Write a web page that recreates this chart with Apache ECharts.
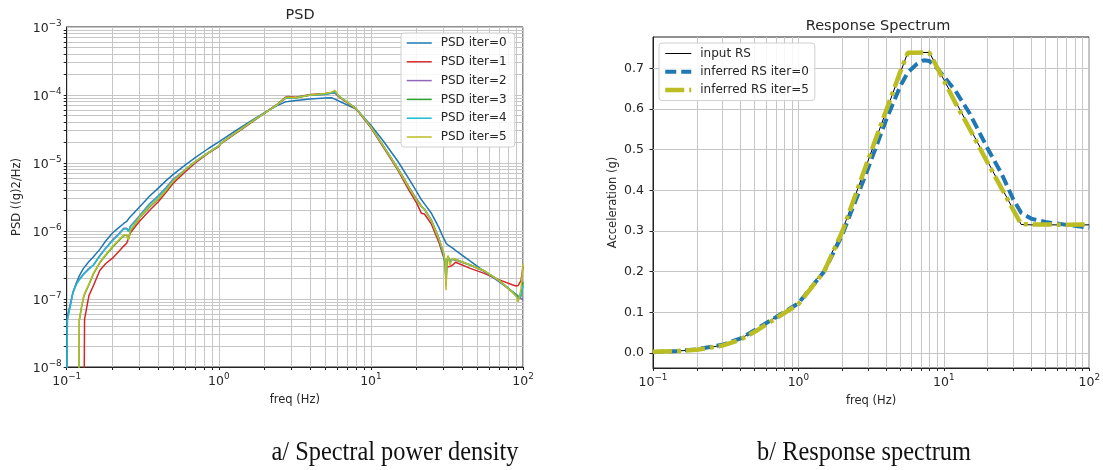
<!DOCTYPE html>
<html><head><meta charset="utf-8">
<script src="https://cdn.jsdelivr.net/npm/echarts@6/dist/echarts.min.js"></script>
<style>html,body{margin:0;padding:0;background:#fff}#c{width:1103px;height:470px}</style>
</head><body><div id="c"></div>
<script>
// ---------- PSD chart data ----------
const freqPSD = [0.1,0.101,0.105,0.11,0.115,0.119,0.121,0.125,0.129,0.131,
  0.14,0.15,0.165,0.18,0.2,0.22,0.237,0.248,0.255,0.262,
  0.3,0.35,0.4,0.41,0.45,0.5,0.6,0.7,0.85,1.0,
  1.03,1.3,1.6,2.0,2.4,2.75,2.85,3.2,4.0,5.0,
  5.5,5.8,6.2,8.0,10,12,15,18,20,21.5,
  22.5,25,28,30,30.8,31.2,31.6,32.2,33,34.5,
  36,45,55,70,85,90,93,97,100];
const psdIter0 = [1e-9,5.5e-8,7.9e-8,1.26e-7,1.66e-7,2.0e-7,2.19e-7,2.51e-7,2.82e-7,2.95e-7,
  3.55e-7,4.17e-7,5.37e-7,7.08e-7,9.33e-7,1.12e-6,1.29e-6,1.38e-6,1.51e-6,1.62e-6,
  2.24e-6,3.24e-6,4.27e-6,4.47e-6,5.5e-6,6.76e-6,9.33e-6,1.2e-5,1.62e-5,2.04e-5,
  2.14e-5,3.02e-5,4.07e-5,5.5e-5,6.92e-5,7.94e-5,8.0e-5,8.3e-5,8.7e-5,9.0e-5,
  9.1e-5,8.7e-5,8.1e-5,6.2e-5,3.6e-5,2.14e-5,1.07e-5,5.6e-6,3.8e-6,2.88e-6,
  2.51e-6,1.82e-6,1.12e-6,7.9e-7,7.1e-7,6.6e-7,6.3e-7,6.2e-7,5.9e-7,5.6e-7,
  5.2e-7,3.6e-7,2.6e-7,1.78e-7,1.29e-7,1.17e-7,1.1e-7,1.02e-7,9.8e-8];
const psdIter1 = [1e-10,1e-10,1e-10,1e-10,1e-10,1e-10,1e-10,1e-10,1e-10,5.0e-8,
  1.12e-7,1.58e-7,2.63e-7,3.3e-7,3.98e-7,5.0e-7,6.0e-7,6.6e-7,6.9e-7,9.3e-7,
  1.38e-6,2.0e-6,2.69e-6,2.88e-6,3.7e-6,5.0e-6,7.4e-6,1.0e-5,1.38e-5,1.74e-5,
  1.91e-5,2.75e-5,3.8e-5,5.4e-5,7.2e-5,9.3e-5,9.5e-5,9.3e-5,1.02e-4,1.05e-4,
  1.08e-4,1.07e-4,9.3e-5,6.2e-5,3.3e-5,1.74e-5,7.9e-6,3.8e-6,2.57e-6,1.82e-6,
  1.78e-6,1.26e-6,6.8e-7,4.17e-7,3.55e-7,3.16e-7,2.95e-7,2.82e-7,3.0e-7,3.16e-7,
  3.47e-7,2.82e-7,2.4e-7,1.91e-7,1.62e-7,1.55e-7,1.58e-7,1.86e-7,3.0e-7];
const psdIter2 = [1e-9,5.0e-8,7.6e-8,1.26e-7,1.62e-7,1.86e-7,1.95e-7,2.14e-7,2.34e-7,2.45e-7,
  2.82e-7,3.16e-7,4.37e-7,5.6e-7,7.4e-7,9.1e-7,1.1e-6,1.1e-6,1.0e-6,1.17e-6,
  1.66e-6,2.51e-6,3.3e-6,3.47e-6,4.37e-6,5.75e-6,7.9e-6,1.05e-5,1.41e-5,1.78e-5,
  1.95e-5,2.82e-5,3.9e-5,5.4e-5,7.1e-5,8.9e-5,9.1e-5,9.1e-5,1.0e-4,1.02e-4,
  1.06e-4,1.07e-4,9.5e-5,6.3e-5,3.4e-5,1.82e-5,8.5e-6,4.27e-6,2.95e-6,2.34e-6,
  2.09e-6,1.45e-6,7.9e-7,4.8e-7,3.3e-7,1.9e-7,3.55e-7,3.98e-7,3.7e-7,3.8e-7,
  3.7e-7,3.16e-7,2.57e-7,1.82e-7,1.26e-7,1.12e-7,1.07e-7,1.02e-7,1.0e-7];
const psdIter3 = [1e-10,1e-10,1e-10,1e-10,1e-10,1e-10,4.8e-8,7.4e-8,1.05e-7,1.17e-7,
  1.62e-7,2.34e-7,3.4e-7,4.37e-7,5.75e-7,7.2e-7,8.5e-7,8.7e-7,7.6e-7,1.0e-6,
  1.55e-6,2.24e-6,2.95e-6,3.16e-6,3.98e-6,5.4e-6,7.9e-6,1.05e-5,1.41e-5,1.78e-5,
  1.95e-5,2.82e-5,3.9e-5,5.4e-5,7.1e-5,9.1e-5,9.2e-5,9.1e-5,1.0e-4,1.03e-4,
  1.07e-4,1.12e-4,9.5e-5,6.3e-5,3.4e-5,1.82e-5,8.3e-6,4.17e-6,2.82e-6,2.29e-6,
  2.09e-6,1.41e-6,7.6e-7,4.57e-7,3.16e-7,1.58e-7,3.55e-7,4.17e-7,3.55e-7,3.9e-7,
  3.8e-7,3.16e-7,2.63e-7,1.86e-7,1.29e-7,1.15e-7,1.02e-7,1.12e-7,1.78e-7];
const psdIter4 = [1e-9,4.9e-8,7.4e-8,1.23e-7,1.58e-7,1.82e-7,1.91e-7,2.09e-7,2.29e-7,2.4e-7,
  2.75e-7,3.16e-7,4.27e-7,5.5e-7,7.2e-7,8.9e-7,1.07e-6,1.07e-6,9.8e-7,1.15e-6,
  1.62e-6,2.45e-6,3.24e-6,3.4e-6,4.27e-6,5.6e-6,7.9e-6,1.05e-5,1.41e-5,1.78e-5,
  1.95e-5,2.82e-5,3.9e-5,5.4e-5,7.1e-5,9.1e-5,9.2e-5,9.1e-5,1.0e-4,1.03e-4,
  1.07e-4,1.12e-4,9.5e-5,6.3e-5,3.4e-5,1.82e-5,8.3e-6,4.17e-6,2.82e-6,2.29e-6,
  2.09e-6,1.41e-6,7.6e-7,4.57e-7,3.3e-7,1.66e-7,3.6e-7,4.27e-7,3.55e-7,3.9e-7,
  3.8e-7,3.16e-7,2.63e-7,1.86e-7,1.29e-7,1.12e-7,1.0e-7,1.1e-7,1.58e-7];
const psdIter5 = [1e-10,1e-10,1e-10,1e-10,1e-10,1e-10,5.0e-8,7.6e-8,1.07e-7,1.2e-7,
  1.66e-7,2.4e-7,3.47e-7,4.47e-7,5.9e-7,7.4e-7,8.7e-7,8.7e-7,7.4e-7,1.02e-6,
  1.58e-6,2.29e-6,3.0e-6,3.16e-6,3.98e-6,5.4e-6,7.9e-6,1.05e-5,1.41e-5,1.78e-5,
  1.95e-5,2.82e-5,3.9e-5,5.4e-5,7.1e-5,9.1e-5,9.3e-5,9.1e-5,1.0e-4,1.05e-4,
  1.1e-4,1.17e-4,9.5e-5,6.3e-5,3.4e-5,1.82e-5,8.3e-6,4.17e-6,2.82e-6,2.29e-6,
  2.09e-6,1.41e-6,7.6e-7,5.0e-7,3.55e-7,1.35e-7,3.8e-7,4.37e-7,3.16e-7,3.98e-7,
  3.8e-7,3.16e-7,2.63e-7,1.86e-7,1.26e-7,1.1e-7,9.1e-8,1.41e-7,3.3e-7];
const psdNames = ['PSD iter=0','PSD iter=1','PSD iter=2','PSD iter=3','PSD iter=4','PSD iter=5'];

// ---------- Response spectrum data ----------
const freqRS = [0.1,0.15,0.2,0.3,0.4,0.5,0.7,1.0,1.5,2.0,3.0,4.0,5.0,5.65,6.5,7.3,7.95,9,10,12,15,20,25,30,34,40,50,70,100];
const rsInput = [0.002,0.005,0.008,0.019,0.035,0.055,0.088,0.123,0.205,0.300,0.471,0.593,0.687,0.739,0.739,0.739,0.739,0.703,0.672,0.619,0.555,0.471,0.406,0.353,0.316,0.315,0.315,0.315,0.315];
const rsIter0 = [0.002,0.005,0.009,0.020,0.036,0.056,0.088,0.122,0.200,0.290,0.452,0.572,0.655,0.690,0.710,0.720,0.718,0.700,0.680,0.645,0.590,0.503,0.440,0.378,0.345,0.330,0.322,0.315,0.308];
const rsIter5 = [0.003,0.005,0.008,0.018,0.033,0.052,0.085,0.120,0.200,0.298,0.473,0.595,0.690,0.738,0.738,0.739,0.738,0.702,0.670,0.615,0.552,0.468,0.404,0.352,0.317,0.316,0.316,0.315,0.316];
const rsNames = ['input RS','inferred RS iter=0','inferred RS iter=5'];

// ---------- axis ticks ----------
const decadesX = [0.1, 1, 10, 100];
const decadesY = [1e-8, 1e-7, 1e-6, 1e-5, 1e-4, 1e-3];
const accTicks = [0, 0.1, 0.2, 0.3, 0.4, 0.5, 0.6, 0.7];
const minorMult = [2,3,4,5,6,7,8,9];

const minorX = [];
decadesX.slice(0, -1).forEach(d => minorMult.forEach(m => minorX.push(+(d * m).toPrecision(3))));
const minorY = [];
decadesY.slice(0, -1).forEach(d => minorMult.forEach(m => minorY.push(+(d * m).toPrecision(3))));

const FONT = 'DejaVu Sans';
const TXT = '#262626';
const GRIDC = '#c6c6c6';
const psdColors = ['#1f77b4','#d62728','#9467bd','#2ca02c','#17becf','#bcbd22'];

function powLabel(v) {
  const e = Math.round(Math.log10(v));
  return '{b|10}{s|' + (e < 0 ? '\u2212' + (-e) : e) + '}';
}
const powRich = {
  b: {fontSize: 12.5, fontFamily: FONT, color: TXT, padding: [3, 0, 0, 0]},
  s: {fontSize: 8.8, fontFamily: FONT, color: TXT, verticalAlign: 'top'}
};

function gridSeries(xi, yi, xs, ys) {
  return {
    type: 'line', name: '_grid' + xi, xAxisIndex: xi, yAxisIndex: yi, data: [], silent: true, z: 1,
    markLine: {
      silent: true, z: 1, symbol: ['none', 'none'], label: {show: false}, animation: false,
      lineStyle: {color: GRIDC, width: 1, type: 'solid'},
      emphasis: {disabled: true},
      data: xs.map(v => ({xAxis: v})).concat(ys.map(v => ({yAxis: v})))
    }
  };
}

const psdData = [psdIter0, psdIter1, psdIter2, psdIter3, psdIter4, psdIter5];
const series = [];
series.push(gridSeries(0, 0, minorX, minorY));
series.push(gridSeries(1, 1, minorX, accTicks));
psdData.forEach((arr, k) => {
  series.push({
    type: 'line', name: psdNames[k], xAxisIndex: 0, yAxisIndex: 0, z: 3,
    data: freqPSD.map((f, i) => [f, arr[i]]),
    symbol: 'none', showSymbol: false, clip: true,
    lineStyle: {color: psdColors[k], width: 1.5},
    itemStyle: {color: psdColors[k]}
  });
});
series.push({
  type: 'line', name: rsNames[0], xAxisIndex: 1, yAxisIndex: 1, z: 3,
  data: freqRS.map((f, i) => [f, rsInput[i]]), symbol: 'none', clip: true,
  lineStyle: {color: '#000000', width: 1}, itemStyle: {color: '#000000'}
});
series.push({
  type: 'line', name: rsNames[1], xAxisIndex: 1, yAxisIndex: 1, z: 4,
  data: freqRS.map((f, i) => [f, rsIter0[i]]), symbol: 'none', clip: true,
  lineStyle: {color: '#1f77b4', width: 4, type: [11, 5]}, itemStyle: {color: '#1f77b4'}
});
series.push({
  type: 'line', name: rsNames[2], xAxisIndex: 1, yAxisIndex: 1, z: 5,
  data: freqRS.map((f, i) => [f, rsIter5[i]]), symbol: 'none', clip: true,
  lineStyle: {color: '#bcbd22', width: 4.5, type: [19, 5, 4, 5]}, itemStyle: {color: '#bcbd22'}
});

const axisLineStyle = {show: true, onZero: false, lineStyle: {color: '#222', width: 1}};
const hiddenSymbol = {opacity: 0, color: 'transparent', borderWidth: 0};
const legendLine = {width: 'inherit', type: 'inherit', color: 'inherit'};

const option = {
  animation: false,
  backgroundColor: '#ffffff',
  title: [
    {text: 'PSD', left: 295, top: 3, textAlign: 'center',
     textStyle: {fontFamily: FONT, fontSize: 14.5, fontWeight: 'normal', color: TXT}},
    {text: 'Response Spectrum', left: 873, top: 14, textAlign: 'center',
     textStyle: {fontFamily: FONT, fontSize: 14.5, fontWeight: 'normal', color: TXT}}
  ],
  legend: [
    {data: psdNames, orient: 'vertical', left: 401, top: 33,
     itemWidth: 25, itemHeight: 10, itemGap: 4.8, padding: [3, 8, 3, 5],
     itemStyle: hiddenSymbol, lineStyle: legendLine,
     backgroundColor: 'rgba(255,255,255,0.85)', borderColor: '#d0d0d0', borderWidth: 1, borderRadius: 3,
     textStyle: {fontFamily: FONT, fontSize: 12, color: TXT, lineHeight: 14, padding: [0, 0, 0, 4]},
     selectedMode: false},
    {data: rsNames, orient: 'vertical', left: 659, top: 43,
     itemWidth: 26, itemHeight: 10, itemGap: 4.3, padding: [3.5, 6, 3.5, 4],
     itemStyle: hiddenSymbol, lineStyle: legendLine,
     backgroundColor: 'rgba(255,255,255,0.85)', borderColor: '#d0d0d0', borderWidth: 1, borderRadius: 3,
     textStyle: {fontFamily: FONT, fontSize: 12, color: TXT, lineHeight: 14, padding: [0, 0, 0, 4]},
     selectedMode: false}
  ],
  grid: [
    {left: 66.7, top: 27, width: 456.3, height: 340, show: true, borderColor: '#222', borderWidth: 1, containLabel: false},
    {left: 653, top: 37, width: 440, height: 331, show: true, borderColor: '#222', borderWidth: 1, containLabel: false}
  ],
  xAxis: [
    {type: 'log', logBase: 10, gridIndex: 0, min: 0.1, max: 100,
     name: 'freq (Hz)', nameLocation: 'middle', nameGap: 27,
     nameTextStyle: {fontFamily: FONT, fontSize: 11.5, color: TXT},
     axisLine: axisLineStyle,
     axisTick: {show: true, inside: false, length: 3, lineStyle: {color: '#222'}, customValues: decadesX.concat(minorX)},
     axisLabel: {show: true, margin: 5, formatter: powLabel, rich: powRich, showMinLabel: true, showMaxLabel: true, hideOverlap: false},
     splitLine: {show: true, lineStyle: {color: GRIDC, width: 1}}},
    {type: 'log', logBase: 10, gridIndex: 1, min: 0.1, max: 100,
     name: 'freq (Hz)', nameLocation: 'middle', nameGap: 27,
     nameTextStyle: {fontFamily: FONT, fontSize: 11.5, color: TXT},
     axisLine: axisLineStyle,
     axisTick: {show: true, inside: false, length: 3, lineStyle: {color: '#222'}, customValues: decadesX.concat(minorX)},
     axisLabel: {show: true, margin: 5, formatter: powLabel, rich: powRich, showMinLabel: true, showMaxLabel: true, hideOverlap: false},
     splitLine: {show: true, lineStyle: {color: GRIDC, width: 1}}}
  ],
  yAxis: [
    {type: 'log', logBase: 10, gridIndex: 0, min: 1e-8, max: 1e-3,
     name: 'PSD ((g)2/Hz)', nameLocation: 'middle', nameGap: 44,
     nameTextStyle: {fontFamily: FONT, fontSize: 11.5, color: TXT},
     axisLine: axisLineStyle,
     axisTick: {show: true, inside: false, length: 3, lineStyle: {color: '#222'}, customValues: decadesY.concat(minorY)},
     axisLabel: {show: true, margin: 5, formatter: powLabel, rich: powRich, showMinLabel: true, showMaxLabel: true, hideOverlap: false},
     splitLine: {show: true, lineStyle: {color: GRIDC, width: 1}}},
    {type: 'value', gridIndex: 1, min: -0.037, max: 0.777,
     name: 'Acceleration (g)', nameLocation: 'middle', nameGap: 34,
     nameTextStyle: {fontFamily: FONT, fontSize: 11.5, color: TXT},
     axisLine: axisLineStyle,
     axisTick: {show: true, inside: false, length: 3.5, lineStyle: {color: '#222'}, customValues: accTicks},
     axisLabel: {show: true, margin: 9, customValues: accTicks, formatter: v => v.toFixed(1),
       fontFamily: FONT, fontSize: 12.5, color: TXT},
     splitLine: {show: false}}
  ],
  graphic: [
    {type: 'text', x: 395, y: 453, scaleX: 0.87, silent: true,
     style: {text: 'a/ Spectral power density', fontFamily: 'Liberation Serif', fontSize: 28, fill: '#111', align: 'center', verticalAlign: 'middle'}},
    {type: 'text', x: 864, y: 453, scaleX: 0.87, silent: true,
     style: {text: 'b/ Response spectrum', fontFamily: 'Liberation Serif', fontSize: 28, fill: '#111', align: 'center', verticalAlign: 'middle'}}
  ],
  series: series
};

const chart = echarts.init(document.getElementById('c'), null, {renderer: 'canvas'});
chart.setOption(option);
</script>
</body></html>
